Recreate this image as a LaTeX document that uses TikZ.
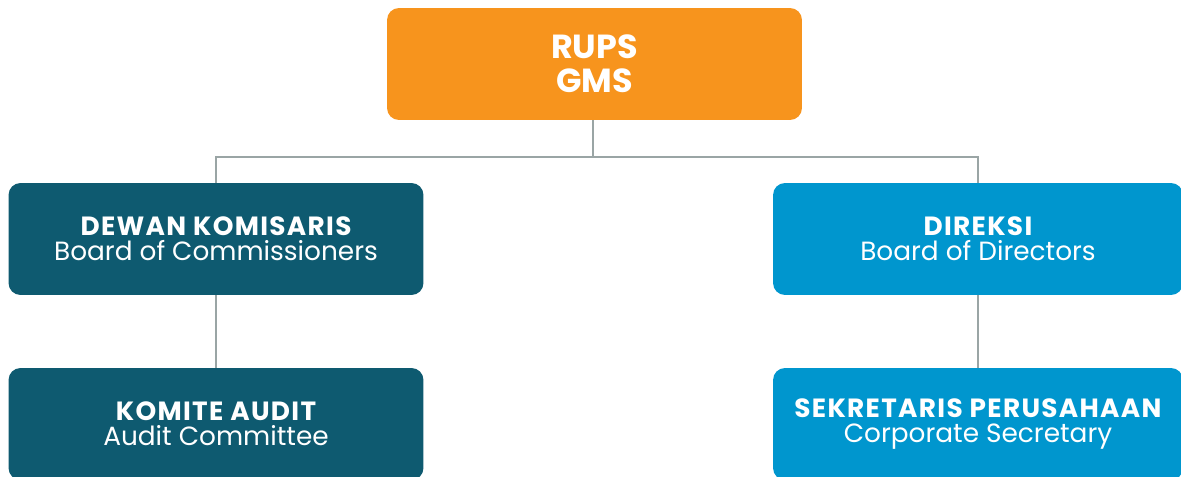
\documentclass[tikz,border=0pt]{standalone}
\usepackage{fontspec}
\setmainfont{Poppins}
\definecolor{gmsorange}{HTML}{F7941D}
\definecolor{komteal}{HTML}{0E5A70}
\definecolor{dirblue}{HTML}{0096CE}
\definecolor{linkgrey}{HTML}{9AA5A5}
\newcommand{\headline}[1]{{\bfseries\addfontfeature{LetterSpace=5}#1}}
\tikzset{
  unit/.style={rounded corners=0.24cm, minimum width=8.3cm, minimum height=2.24cm,
    inner sep=0pt, text=white, align=center, font=\fontsize{15}{14}\selectfont},
  link/.style={draw=linkgrey, line width=1.4pt}
}
\begin{document}
\begin{tikzpicture}[x=0.02cm, y=-0.02cm]
\useasboundingbox (0,0) rectangle (1181,477);
% RUPS
\node[unit, fill=gmsorange, font=\fontsize{19}{19.5}\selectfont\bfseries] (rups) at (594.5,64) {RUPS\\GMS};

% Dewan Komisaris
\node[unit, fill=komteal] (komisaris) at (216,239) {\headline{DEWAN KOMISARIS}\\Board of Commissioners};
\node[unit, fill=komteal] (audit) at (216,424) {\headline{KOMITE AUDIT}\\Audit Committee};

% Direksi
\node[unit, fill=dirblue, minimum width=8.2cm] (direksi) at (978,239) {\headline{DIREKSI}\\Board of Directors};
\node[unit, fill=dirblue, minimum width=8.2cm] (sekretaris) at (978,424) {\headline{SEKRETARIS PERUSAHAAN}\\Corporate Secretary};

% garis
\coordinate (split) at (593,157);
\draw[link] (rups.south -| split) -- (split);
\draw[link] (komisaris.north) |- (split) -| (direksi.north);
\draw[link] (komisaris) -- (audit);
\draw[link] (direksi) -- (sekretaris);
\end{tikzpicture}
\end{document}
